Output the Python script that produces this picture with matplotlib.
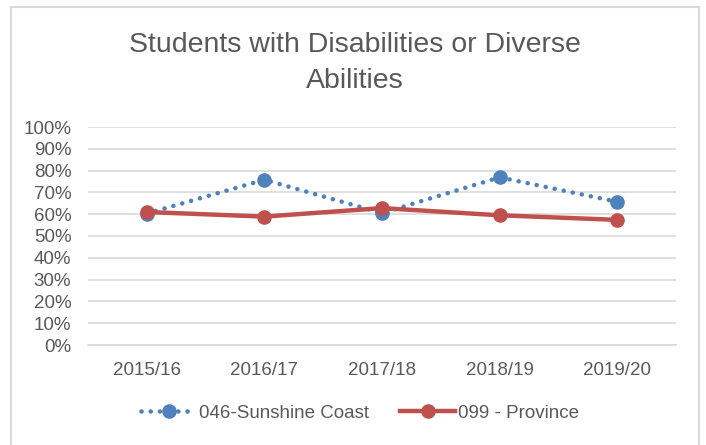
import matplotlib.pyplot as plt
from matplotlib.patches import Rectangle
from matplotlib.ticker import PercentFormatter

# data
years = ['2015/16', '2016/17', '2017/18', '2018/19', '2019/20']
sunshine_coast = [60.3, 75.8, 60.5, 76.9, 65.7]
province = [61.0, 58.9, 62.8, 59.5, 57.4]
y_ticks = list(range(0, 101, 10))

BLUE = '#4F81BD'
RED = '#C0504D'
GRID = '#D9D9D9'
TEXT = '#595959'

plt.rcParams['font.family'] = ['Liberation Sans', 'DejaVu Sans']

W, H = 706, 445
fig = plt.figure(figsize=(W / 100, H / 100), dpi=100)

# outer chart border, bottom edge runs off the image
fig.patches.append(Rectangle((11 / W, -0.05), (699 - 11) / W, 1.05 - 7 / H,
                             transform=fig.transFigure, fill=False,
                             edgecolor=GRID, linewidth=1.5))

# plot area in pixels: x 88..676, y 127 (100%) .. 345 (0%)
ax = fig.add_axes([88 / W, 1 - 345 / H, (676 - 88) / W, (345 - 127) / H])

x = range(len(years))
ax.plot(x, sunshine_coast, color=BLUE, linewidth=3.3, linestyle=(0, (0.01, 2.0)),
        dash_capstyle='round', marker='o', markersize=9.5,
        label='046-Sunshine Coast', zorder=3)
ax.plot(x, province, color=RED, linewidth=3.2, marker='o', markersize=9.5,
        label='099 - Province', zorder=4)

ax.set_xlim(-0.5, len(years) - 0.5)
ax.set_ylim(0, 100)
ax.set_yticks(y_ticks)
ax.yaxis.set_major_formatter(PercentFormatter(decimals=0))
ax.set_xticks(list(x))
ax.set_xticklabels(years)
ax.tick_params(axis='both', length=0, labelsize=13.5, labelcolor=TEXT)
ax.tick_params(axis='x', pad=12)
ax.tick_params(axis='y', pad=12)

ax.grid(axis='y', color=GRID, linewidth=1.2)
ax.set_axisbelow(True)
for side in ['left', 'right', 'top']:
    ax.spines[side].set_visible(False)
ax.spines['bottom'].set_color(GRID)
ax.spines['bottom'].set_linewidth(1.2)

fig.text(355 / W, 1 - 63 / H, 'Students with Disabilities or Diverse\nAbilities',
         ha='center', va='center', fontsize=20.5, color=TEXT, linespacing=1.45)

fig.legend(loc='center', bbox_to_anchor=(360 / W, 1 - 413 / H), ncol=2,
           frameon=False, fontsize=13.5, labelcolor=TEXT, handlelength=2.9,
           handletextpad=0.15, columnspacing=1.7)

fig.savefig('out.png', dpi=100)
